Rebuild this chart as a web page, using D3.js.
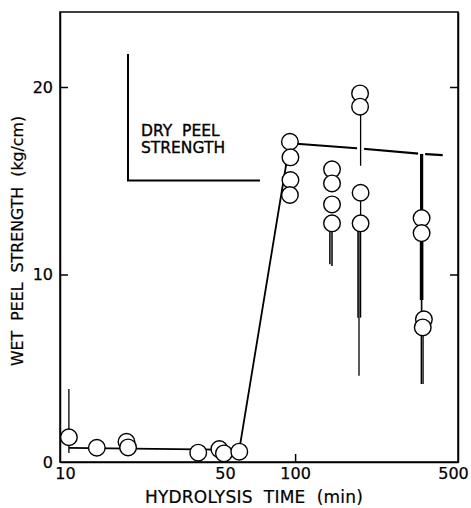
<!DOCTYPE html>
<html>
<head>
<meta charset="utf-8">
<script src="https://cdn.jsdelivr.net/npm/d3@7"></script>
<style>
  html, body { margin: 0; padding: 0; background: #fff; }
  svg { display: block; }
  text { font-family: "DejaVu Sans", "Liberation Sans", sans-serif; fill: #000; }
</style>
</head>
<body>
<svg id="chart" width="471" height="508"></svg>
<script>
// ---- data ----
const pointTimes  = [10.7, 14.1, 18.9, 19.2, 38.4, 47.3, 49.5, 57.6,
                     95, 95.5, 95.5, 95,
                     144, 144, 144, 144,
                     190, 190, 191, 191,
                     349, 349, 357, 353];
const pointValues = [1.32, 0.76, 1.08, 0.78, 0.50, 0.69, 0.46, 0.55,
                     17.08, 16.25, 15.04, 14.24,
                     15.61, 14.86, 13.74, 12.73,
                     19.66, 18.95, 14.36, 12.73,
                     13.01, 12.21, 7.61, 7.18];

// wet peel strength trend line
const wetLineTimes  = [10.7, 57.6, 95];
const wetLineValues = [0.75, 0.65, 17.08];

// dry peel strength line
const dryTimes  = [95, 190, 349, 430];
const dryValues = [17.0, 16.72, 16.43, 16.37];

// vertical range bars: time, low, high, weight
const barTimes = [10.7, 49.5, 141, 144, 191, 191, 186, 191, 188, 349, 349, 349, 348, 354];
const barLows  = [0.48, 0.10, 10.55, 10.45, 15.8, 12.73, 7.7, 7.7, 4.6, 13.0, 8.64, 7.61, 4.16, 4.16];
const barHighs = [3.9, 0.46, 12.73, 12.73, 18.95, 14.36, 12.73, 12.73, 12.73, 16.43, 12.21, 8.64, 7.18, 7.18];
const barWeights = [1.3, 1.3, 1.5, 1.5, 1.3, 1.3, 1.3, 1.3, 1.3, 3.2, 3.6, 1.6, 1.4, 1.4];

const xTicks = [10, 50, 100, 500];
const yTicks = [0, 10, 20];
const xTitle = "HYDROLYSIS  TIME  (min)";
const yTitle = "WET  PEEL  STRENGTH  (kg/cm)";
const legendLines = ["DRY  PEEL", "STRENGTH"];

// ---- layout ----
const L = 60, R = 458, T = 12, B = 462;
const svg = d3.select("#chart");

const x = d3.scaleLog().domain([9.8, 500]).range([L, R]);
const y = d3.scaleLinear().domain([0, 24]).range([B, T]);

// frame
svg.append("rect").attr("x", L).attr("y", T).attr("width", R - L).attr("height", B - T)
  .attr("fill", "none").attr("stroke", "#000").attr("stroke-width", 1.5);

// axes
const ax = svg.append("g").attr("font-size", 16);
const leftAxis = d3.axisLeft(y).tickValues(yTicks).tickSizeInner(-8).tickSizeOuter(0).tickPadding(7)
  .tickFormat(d3.format("d"));
const gL = ax.append("g").attr("transform", `translate(${L},0)`).call(leftAxis);
const rightAxis = d3.axisRight(y).tickValues([10, 20]).tickSizeInner(-8).tickSizeOuter(0).tickFormat("");
const gR = ax.append("g").attr("transform", `translate(${R},0)`).call(rightAxis);
const bottomAxis = d3.axisBottom(x).tickValues(xTicks).tickSizeInner(-8).tickSizeOuter(0).tickPadding(6)
  .tickFormat(d3.format("d"));
const gB = ax.append("g").attr("transform", `translate(0,${B})`).call(bottomAxis);
[gL, gR, gB].forEach(g => {
  g.select(".domain").attr("stroke-width", 1.5);
  g.selectAll(".tick line").attr("stroke-width", 1.5);
  g.selectAll("text").attr("font-family", "DejaVu Sans, sans-serif").attr("font-size", 16)
    .attr("fill", "#000").attr("stroke", "#000").attr("stroke-width", 0.25);
});
gB.selectAll(".tick line").filter(d => d === 10 || d === 500).remove();
gL.selectAll(".tick line").filter(d => d === 0).remove();
gB.selectAll(".tick text").filter(d => d === 500).attr("dx", -5);
gB.selectAll(".tick text").filter(d => d === 10).attr("dx", 3);

// titles
svg.append("text").attr("x", 254).attr("y", 503).attr("text-anchor", "middle")
  .attr("font-size", 17).attr("letter-spacing", 0.2).attr("stroke", "#000").attr("stroke-width", 0.2)
  .style("white-space", "pre").text(xTitle);
svg.append("text").attr("transform", "translate(23,241) rotate(-90)").attr("text-anchor", "middle")
  .attr("font-size", 15.8).attr("stroke", "#000").attr("stroke-width", 0.2)
  .style("white-space", "pre").text(yTitle);

// legend bracket
const lg = svg.append("g");
lg.append("path").attr("d", "M128,54 V180.5 H260").attr("fill", "none")
  .attr("stroke", "#000").attr("stroke-width", 2);
lg.selectAll("text.lg").data(legendLines).join("text").attr("class", "lg")
  .attr("x", 141).attr("y", (d, i) => 136 + i * 17).attr("font-size", 15.5)
  .attr("stroke", "#000").attr("stroke-width", 0.35)
  .style("white-space", "pre").text(d => d);

// wet trend line
const line = d3.line().x(d => x(d[0])).y(d => y(d[1]));
svg.append("path").datum(wetLineTimes.map((t, i) => [t, wetLineValues[i]]))
  .attr("d", line).attr("fill", "none").attr("stroke", "#000").attr("stroke-width", 1.8);

// dry line
svg.append("path").datum(dryTimes.map((t, i) => [t, dryValues[i]]))
  .attr("d", line).attr("fill", "none").attr("stroke", "#000").attr("stroke-width", 2.2);

// bars (white halo, then black)
const bars = barTimes.map((t, i) => ({t, lo: barLows[i], hi: barHighs[i], w: barWeights[i]}));
svg.selectAll("line.halo").data(bars.filter(b => b.hi > 15.5)).join("line").attr("class", "halo")
  .attr("x1", d => x(d.t)).attr("x2", d => x(d.t))
  .attr("y1", d => y(d.hi) - 5).attr("y2", d => y(d.lo) + 5)
  .attr("stroke", "#fff").attr("stroke-width", 7);
svg.selectAll("line.bar").data(bars).join("line").attr("class", "bar")
  .attr("x1", d => x(d.t)).attr("x2", d => x(d.t))
  .attr("y1", d => y(d.hi)).attr("y2", d => y(d.lo))
  .attr("stroke", "#000").attr("stroke-width", d => d.w);

// points
svg.selectAll("circle.pt").data(pointTimes.map((t, i) => [t, pointValues[i]])).join("circle")
  .attr("class", "pt").attr("cx", d => x(d[0])).attr("cy", d => y(d[1])).attr("r", 8.3)
  .attr("fill", "#fff").attr("stroke", "#000").attr("stroke-width", 1.4);
</script>
</body>
</html>
